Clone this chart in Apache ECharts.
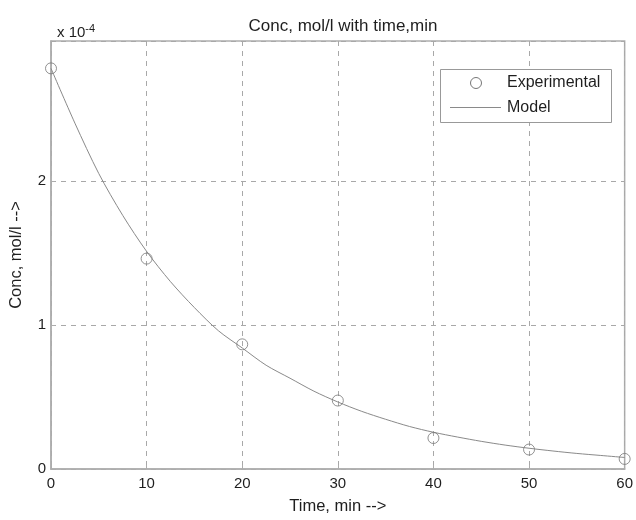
<!DOCTYPE html>
<html>
<head>
<meta charset="utf-8">
<script src="https://cdn.jsdelivr.net/npm/echarts@6/dist/echarts.min.js"></script>
<style>
  html, body { margin: 0; padding: 0; background: #fff; }
  #chart { width: 636px; height: 520px; }
</style>
</head>
<body>
<div id="chart"></div>
<script>
// Concentration in units of 1e-4 mol/l
const expTime = [0, 10, 20, 30, 40, 50, 60];
const expConc = [2.78, 1.46, 0.865, 0.475, 0.215, 0.135, 0.07];

const modelTime = [0, 2.5, 5, 7.5, 10, 12.5, 15, 17.5, 20, 22.5, 25, 27.5, 30,
  32.5, 35, 37.5, 40, 42.5, 45, 47.5, 50, 52.5, 55, 57.5, 60];
const modelConc = [2.78, 2.40, 2.05, 1.76, 1.51, 1.30, 1.12, 0.96, 0.84, 0.72,
  0.63, 0.54, 0.465, 0.40, 0.345, 0.295, 0.255, 0.222, 0.192, 0.166, 0.144,
  0.125, 0.108, 0.094, 0.080];

const xTicks = [0, 10, 20, 30, 40, 50, 60];
const yTicks = [0, 1, 2];
const legendNames = ['Experimental', 'Model'];

const FONT = 'Liberation Sans, Arial, Helvetica, sans-serif';
const INK = '#1e1e1e';
const MARK = '#777';
const chart = echarts.init(document.getElementById('chart'));

chart.setOption({
  animation: false,
  backgroundColor: '#fff',
  textStyle: { fontFamily: FONT },
  title: [{
    text: 'Conc, mol/l with time,min',
    left: 338, top: 13, textAlign: 'center',
    textStyle: { fontSize: 17, fontWeight: 'normal', color: INK, fontFamily: FONT }
  }, {
    text: 'x 10{sup|-4}',
    left: 52, top: 18,
    textStyle: {
      fontSize: 15, fontWeight: 'normal', color: INK, fontFamily: FONT,
      rich: { sup: { fontSize: 11, verticalAlign: 'top', padding: [0, 0, 9, 0], color: INK, fontFamily: FONT } }
    }
  }],
  grid: {
    left: 51, right: 11, top: 41, bottom: 41,
    show: true, borderColor: '#adadad', borderWidth: 1.5
  },
  // Legend box with an open-circle marker and a line sample
  graphic: [
    { type: 'rect', shape: { x: 440.5, y: 69.5, width: 171, height: 53 },
      style: { fill: '#fff', stroke: '#999', lineWidth: 1 }, z: 10 },
    { type: 'circle', shape: { cx: 476, cy: 83, r: 5.5 },
      style: { fill: 'transparent', stroke: MARK, lineWidth: 1 }, z: 11 },
    { type: 'line', shape: { x1: 450, y1: 107.5, x2: 501, y2: 107.5 },
      style: { stroke: '#8a8a8a', lineWidth: 1 }, z: 11 },
    { type: 'text', x: 507, y: 83, z: 11,
      style: { text: legendNames[0], fontSize: 16, fill: INK, font: '16px ' + FONT, verticalAlign: 'middle' } },
    { type: 'text', x: 507, y: 108, z: 11,
      style: { text: legendNames[1], fontSize: 16, fill: INK, font: '16px ' + FONT, verticalAlign: 'middle' } }
  ],
  xAxis: {
    type: 'value', min: 0, max: 60, interval: 10,
    name: 'Time, min -->', nameLocation: 'middle', nameGap: 29,
    nameTextStyle: { fontSize: 16.5, color: INK, fontFamily: FONT },
    axisLine: { show: true, lineStyle: { color: '#adadad', width: 1.5 } },
    axisTick: { show: true, inside: true, length: 4, lineStyle: { color: '#adadad' } },
    axisLabel: {
      fontSize: 15, color: INK, fontFamily: FONT, margin: 7,
      formatter: v => (xTicks.indexOf(v) >= 0 ? String(v) : '')
    },
    splitLine: { show: true, lineStyle: { color: '#a8a8a8', type: [5, 5], width: 1 } }
  },
  yAxis: {
    type: 'value', min: 0, max: 2.97, interval: 1,
    name: 'Conc, mol/l -->', nameLocation: 'middle', nameGap: 26, nameRotate: 90,
    nameTextStyle: { fontSize: 16.5, color: INK, fontFamily: FONT },
    axisLine: { show: true, lineStyle: { color: '#adadad', width: 1.5 } },
    axisTick: { show: true, inside: true, length: 4, lineStyle: { color: '#adadad' } },
    axisLabel: {
      fontSize: 15, color: INK, fontFamily: FONT, margin: 5,
      showMaxLabel: false,
      formatter: v => (yTicks.indexOf(v) >= 0 ? String(v) : '')
    },
    splitLine: { show: true, lineStyle: { color: '#a8a8a8', type: [5, 5], width: 1 } }
  },
  series: [{
    name: legendNames[1],
    type: 'line',
    data: modelTime.map((t, i) => [t, modelConc[i]]),
    smooth: 0.3,
    showSymbol: false,
    lineStyle: { color: '#8a8a8a', width: 1 },
    itemStyle: { color: '#8a8a8a' },
    z: 2
  }, {
    name: legendNames[0],
    type: 'scatter',
    data: expTime.map((t, i) => [t, expConc[i]]),
    symbol: 'circle',
    symbolSize: 11,
    clip: false,
    itemStyle: { color: 'rgba(255,255,255,0)', borderColor: MARK, borderWidth: 1 },
    z: 3
  }]
});
</script>
</body>
</html>
